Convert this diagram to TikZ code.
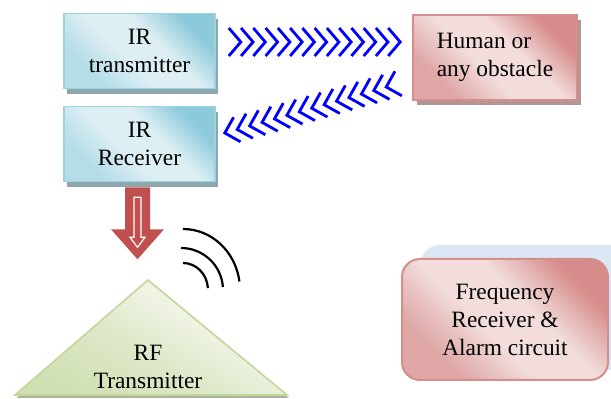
\documentclass[tikz,border=0pt]{standalone}
\usepackage{fontspec}
\setmainfont{Liberation Serif}
\usetikzlibrary{calc,shadows}
\definecolor{bluedk}{HTML}{8CC9DA}
\definecolor{bluemd}{HTML}{B5DDE8}
\definecolor{bluelt}{HTML}{DEEFF4}
\definecolor{blueedge}{HTML}{9ED2E0}
\definecolor{blueshadow}{HTML}{8DA7AE}
\definecolor{pinkdk}{HTML}{D68C8A}
\definecolor{pinkmd}{HTML}{DFA8A7}
\definecolor{pinklt}{HTML}{F2DDDC}
\definecolor{pinkedge}{HTML}{D58E8C}
\definecolor{pinkshadow}{HTML}{B39594}
\definecolor{greendk}{HTML}{D1E0B3}
\definecolor{greenmd}{HTML}{DDE8C8}
\definecolor{greenlt}{HTML}{EEF3E2}
\definecolor{greenedge}{HTML}{C3D69B}
\definecolor{greenshadow}{HTML}{A9B49C}
\definecolor{backblue}{HTML}{DDE7F3}
\definecolor{arrowred}{HTML}{C0504D}
\definecolor{chevblue}{HTML}{0000FF}
\pgfdeclareverticalshading{bluediag}{100bp}{color(0bp)=(bluemd); color(28bp)=(bluemd); color(44bp)=(bluelt); color(58bp)=(bluelt); color(74bp)=(bluedk); color(100bp)=(bluedk)}
\pgfdeclareverticalshading{pinkdiag}{100bp}{color(0bp)=(pinkmd); color(28bp)=(pinkmd); color(44bp)=(pinklt); color(58bp)=(pinklt); color(74bp)=(pinkdk); color(100bp)=(pinkdk)}
\pgfdeclareverticalshading{greendiag}{100bp}{color(0bp)=(greendk); color(25bp)=(greendk); color(45bp)=(greenmd); color(60bp)=(greenlt); color(100bp)=(greenlt)}
\begin{document}
\begin{tikzpicture}[x=0.5pt,y=-0.5pt,
  txt/.style={font=\fontsize{11.7}{14}\selectfont, text=black},
  bluebox/.style={rectangle, draw=blueedge, line width=0.8pt,
    shading=bluediag, shading angle=-45,
    general shadow={fill=blueshadow, shadow xshift=1.5pt, shadow yshift=-3pt},
    txt, align=center, minimum width=75.5pt, minimum height=37.5pt, inner sep=0pt},
  pinkbox/.style={rectangle, draw=pinkedge, line width=0.8pt,
    shading=pinkdiag, shading angle=-45,
    general shadow={fill=pinkshadow, shadow xshift=2pt, shadow yshift=-2.5pt},
    txt, align=left, minimum width=82pt, minimum height=42.5pt, inner sep=0pt},
  roundpink/.style={rectangle, rounded corners=9pt, draw=pinkedge, line width=1pt,
    shading=pinkdiag, shading angle=-45,
    txt, align=center, minimum width=103pt, minimum height=60.5pt, inner sep=0pt},
  chev/.style={draw=chevblue, line width=1.4pt},
  wave/.style={draw=black, line width=1.1pt},
]
\clip (0,0) rectangle (611,399);
\fill[white] (0,0) rectangle (611,399);

% back panel and frequency box
\fill[backblue, rounded corners=10pt] (420,245) rectangle (640,370);
\node[roundpink] (fr) at (505,319.5) {Frequency\\Receiver \&\\Alarm circuit};

% boxes
\node[bluebox] (tx) at (139.5,51) {IR\\transmitter};
\node[bluebox] (rx) at (139.5,144) {IR\\Receiver};
\node[pinkbox] (hu) at (495,57.5) {Human or\\any obstacle};

% RF triangle
\coordinate (apex) at (148,280);
\coordinate (bl) at (15,395);
\coordinate (br) at (287,395);
\path[draw=greenedge, line width=0.8pt, shading=greendiag, shading angle=-30,
  general shadow={fill=greenshadow, shadow xshift=0.8pt, shadow yshift=-1.5pt}]
  (apex) -- (br) -- (bl) -- cycle;
\node[txt, align=center, inner sep=0pt] (rf) at (148,367) {RF\\Transmitter};

% red block arrow from receiver towards the transmitter
\coordinate (a0) at ($(rx.south)+(-2,5)$);
\begin{scope}[shift={(a0)}]
  \fill[arrowred] (-12.5,0) -- (12.5,0) -- (12.5,42) -- (26.5,42) -- (0,72)
     -- (-26.5,42) -- (-12.5,42) -- cycle;
  \draw[white, line width=0.6pt] (-3.5,10) -- (3.5,10) -- (3.5,50) -- (7.5,50)
     -- (0,60) -- (-7.5,50) -- (-3.5,50) -- cycle;
\end{scope}

% radio waves
\draw[wave] (183,229) arc[start angle=-90, end angle=-8, x radius=57, y radius=61];
\draw[wave] (181,248) arc[start angle=-90, end angle=-4, x radius=42, y radius=42];
\draw[wave] (183,263) arc[start angle=-90, end angle=-4, x radius=25, y radius=27];

% chevrons transmitter -> obstacle
\coordinate (c1s) at ($(tx.east)+(25,-9)$);
\coordinate (c1e) at ($(hu.west)+(-12,-15.5)$);
\foreach \i in {0,...,13} {
  \path ($(c1s)!\i/13!(c1e)$) coordinate (t);
  \draw[chev] ($(t)+(-12,-14)$) -- (t) -- ($(t)+(-12,14)$);
}

% chevrons obstacle -> receiver
\coordinate (c2s) at ($(rx.east)+(9,-11)$);
\coordinate (c2e) at ($(hu.west)+(-26,29.5)$);
\foreach \i in {0,...,13} {
  \path ($(c2s)!\i/13!(c2e)$) coordinate (t);
  \draw[chev] ($(t)+(8.8,-15.7)$) -- (t) -- ($(t)+(15.7,8.8)$);
}
\end{tikzpicture}
\end{document}
